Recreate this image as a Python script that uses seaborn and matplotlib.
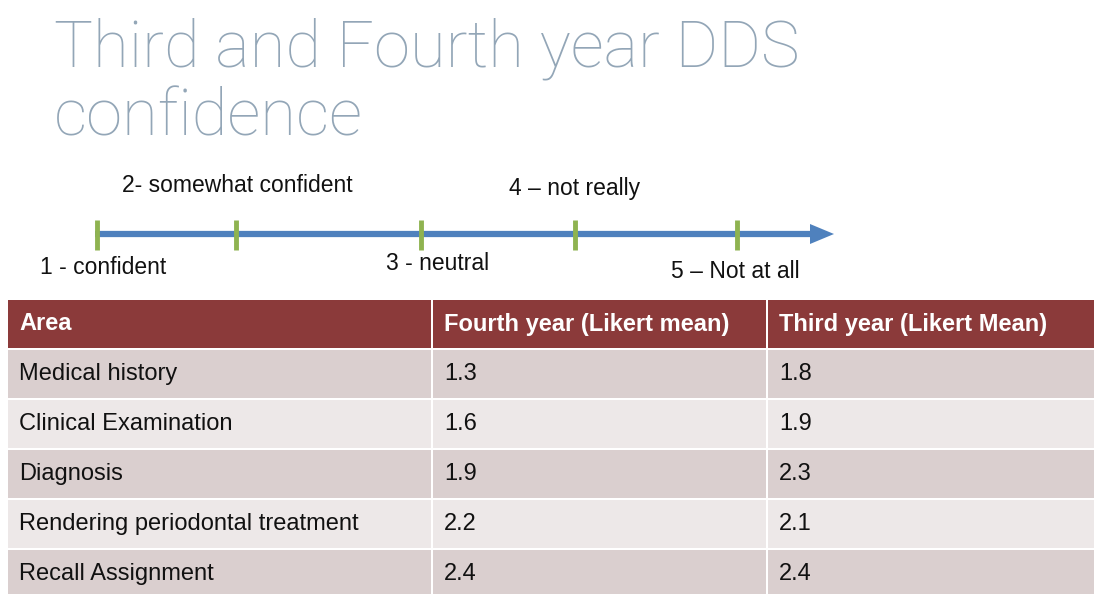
import matplotlib
matplotlib.use("Agg")
import matplotlib.pyplot as plt
import seaborn as sns
import pandas as pd

# scale labels
scale_points = [1, 2, 3, 4, 5]
scale_labels = ["1 - confident", "2- somewhat confident", "3 - neutral",
                "4 \u2013 not really", "5 \u2013 Not at all"]

# table data
areas = ["Medical history", "Clinical Examination", "Diagnosis",
         "Rendering periodontal treatment", "Recall Assignment"]
fourth_year = [1.3, 1.6, 1.9, 2.2, 2.4]
third_year = [1.8, 1.9, 2.3, 2.1, 2.4]
headers = ["Area", "Fourth year (Likert mean)", "Third year (Likert Mean)"]

df = pd.DataFrame({headers[0]: areas, headers[1]: fourth_year, headers[2]: third_year})

sns.set_theme(style="white")
plt.rcParams["font.family"] = ["Liberation Sans", "DejaVu Sans"]

fig = plt.figure(figsize=(10.96, 5.94), dpi=100)
ax = fig.add_axes([0, 0, 1, 1])
ax.set_xlim(0, 1096)
ax.set_ylim(594, 0)
ax.axis("off")

# title
title_kw = dict(fontsize=47, color="#93a6b7", family=["Roboto", "DejaVu Sans"],
                fontweight="light", va="baseline")
ax.text(54, 66, "Third and Fourth year DDS", **title_kw)
ax.text(54, 136, "confidence", **title_kw)

# scale arrow
tick_x = [97, 236, 421, 575, 737]
ax.plot([95, 812], [234, 234], color="#4f81bd", lw=4.5, solid_capstyle="butt")
ax.fill([810, 834, 810], [224, 234, 244], color="#4f81bd", lw=0)
for x in tick_x:
    ax.plot([x, x], [220, 250], color="#8fb350", lw=3.5, solid_capstyle="butt")

label_pos = [(40, 267), (122, 186), (386, 264), (509, 189), (671, 271)]
for p, lab, (x, y) in zip(scale_points, scale_labels, label_pos):
    ax.text(x, y, lab, fontsize=16.5, color="#111111", va="center", ha="left")

# table
col_x = [8, 433, 768, 1096]
top, head_h, row_h = 300, 48, 50
header_c = "#8b3a3a"
row_c = ["#dacfcf", "#ede8e8"]

for j in range(3):
    ax.add_patch(plt.Rectangle((col_x[j], top), col_x[j + 1] - col_x[j] - 2, head_h,
                               color=header_c, lw=0))
    ax.text(col_x[j] + 11, top + head_h / 2, headers[j], color="white", fontsize=17,
            fontweight="bold", va="center")

for i, row in df.iterrows():
    y0 = top + head_h + 2 + i * row_h
    for j, col in enumerate(headers):
        ax.add_patch(plt.Rectangle((col_x[j], y0), col_x[j + 1] - col_x[j] - 2, row_h - 2,
                                   color=row_c[i % 2], lw=0))
        val = row[col]
        txt = val if j == 0 else f"{val:.1f}"
        ax.text(col_x[j] + 11, y0 + (row_h - 2) / 2, txt, color="#111111",
                fontsize=17, va="center")

fig.savefig("out.png", dpi=100, facecolor="white")
